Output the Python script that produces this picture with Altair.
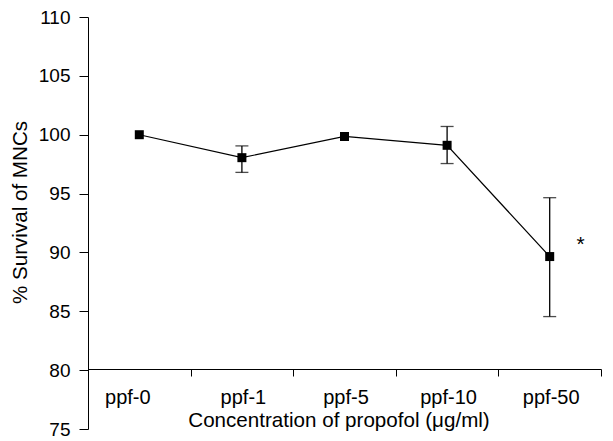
import altair as alt
import pandas as pd

# Data
groups = ["ppf-0", "ppf-1", "ppf-5", "ppf-10", "ppf-50"]
survival = [100.0, 98.05, 99.85, 99.1, 89.65]
err_low = [None, 96.8, None, 97.55, 84.55]
err_high = [None, 99.05, None, 100.7, 94.65]

star_group = ["ppf-50"]
star_value = [90.15]
star_text = ["*"]

y_ticks = [75, 80, 85, 90, 95, 100, 105, 110]

df = pd.DataFrame({"group": groups, "survival": survival, "lo": err_low, "hi": err_high})
err_df = df.dropna(subset=["lo", "hi"])
star_df = pd.DataFrame({"group": star_group, "v": star_value, "t": star_text})

FONT = "Liberation Sans"

x_enc = alt.X(
    "group:N",
    sort=groups,
    scale=alt.Scale(paddingInner=0, paddingOuter=0),
    axis=alt.Axis(
        title="Concentration of propofol (\u03bcg/ml)",
        offset=-60,
        tickBand="extent",
        tickSize=7,
        tickColor="black",
        tickWidth=1,
        domainColor="black",
        domainWidth=1,
        labelAngle=0,
        labelFont=FONT,
        labelFontSize=20,
        labelColor="black",
        labelPadding=11,
        labelBaseline="top",
        labelOffset={"condition": {"test": "datum.value === 'ppf-0'", "value": -12}, "value": 1},
        titleFont=FONT,
        titleFontSize=20.6,
        titleFontWeight="normal",
        titleColor="black",
        titleX=250.5,
        titleY=57,
        titleAlign="center",
        titleBaseline="alphabetic",
        grid=False,
    ),
)

y_scale = alt.Scale(domain=[75, 110], nice=False, zero=False)
y_axis = alt.Axis(
    title="% Survival of MNCs",
    values=y_ticks,
    tickSize=9,
    tickColor="black",
    tickWidth=1,
    domainColor="black",
    domainWidth=1,
    labelFont=FONT,
    labelFontSize=19,
    labelColor="black",
    labelPadding=9,
    titleFont=FONT,
    titleFontSize=20.6,
    titleFontWeight="normal",
    titleColor="black",
    titleAngle=270,
    titleX=-62,
    titleY=195,
    titleAlign="center",
    titleBaseline="alphabetic",
    grid=False,
)

base = alt.Chart(df)

line = base.mark_line(color="black", strokeWidth=1.2).encode(
    x=x_enc,
    y=alt.Y("survival:Q", scale=y_scale, axis=y_axis),
)

err = alt.Chart(err_df).mark_rule(color="black", strokeWidth=1.3).encode(
    x=alt.X("group:N", sort=groups),
    y=alt.Y("lo:Q", scale=y_scale),
    y2="hi:Q",
)
cap_lo = alt.Chart(err_df).mark_tick(color="black", size=13, thickness=1.3, orient="horizontal").encode(
    x=alt.X("group:N", sort=groups),
    y=alt.Y("lo:Q", scale=y_scale),
)
cap_hi = alt.Chart(err_df).mark_tick(color="black", size=13, thickness=1.3, orient="horizontal").encode(
    x=alt.X("group:N", sort=groups),
    y=alt.Y("hi:Q", scale=y_scale),
)

points = base.mark_square(color="black", size=81, opacity=1).encode(
    x=alt.X("group:N", sort=groups),
    y=alt.Y("survival:Q", scale=y_scale),
)

star = alt.Chart(star_df).mark_text(
    font=FONT, fontSize=21, color="black", dx=31, align="center", baseline="alphabetic"
).encode(
    x=alt.X("group:N", sort=groups),
    y=alt.Y("v:Q", scale=y_scale),
    text="t:N",
)

chart = (
    alt.layer(line, err, cap_lo, cap_hi, points, star)
    .properties(
        width=513,
        height=412,
        autosize=alt.AutoSizeParams(type="none"),
        padding={"left": 80, "top": 9, "right": 4, "bottom": 12},
        background="white",
    )
    .configure_view(stroke=None)
)

chart.save("out.html", embed_options={"renderer": "svg", "actions": False})
